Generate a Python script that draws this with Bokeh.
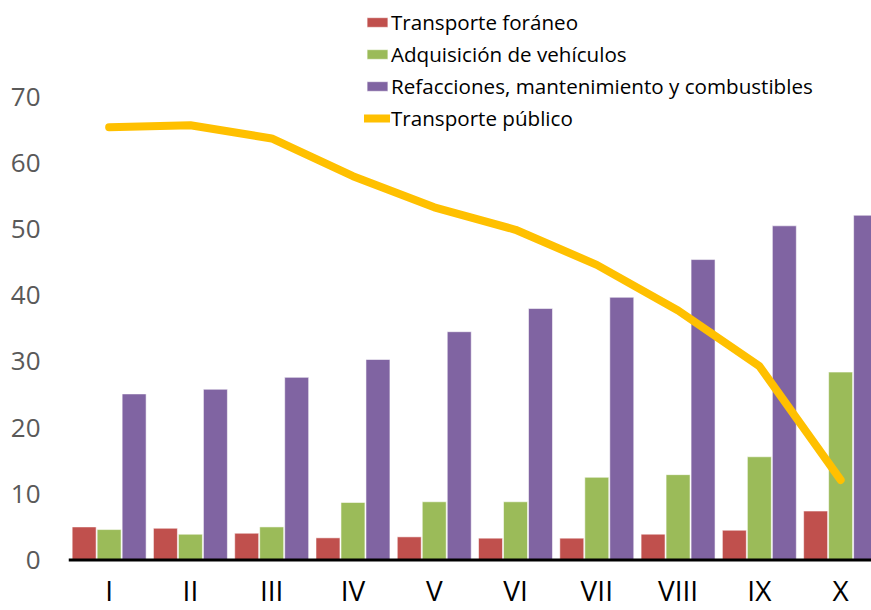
from bokeh.plotting import figure
from bokeh.models import ColumnDataSource, Range1d, FixedTicker, Legend, LegendItem, Span
from bokeh.core.properties import value
from bokeh.transform import dodge
from bokeh.embed import file_html
from bokeh.resources import INLINE

# ---- data ----
deciles = ["I", "II", "III", "IV", "V", "VI", "VII", "VIII", "IX", "X"]
transporte_foraneo = [5.0, 4.8, 4.05, 3.35, 3.5, 3.3, 3.3, 3.9, 4.5, 7.4]
adquisicion_vehiculos = [4.6, 3.9, 5.0, 8.7, 8.8, 8.8, 12.5, 12.9, 15.6, 28.4]
refacciones = [25.1, 25.8, 27.6, 30.3, 34.5, 38.0, 39.7, 45.4, 50.5, 52.1]
transporte_publico = [65.4, 65.7, 63.7, 58.0, 53.3, 49.9, 44.6, 37.7, 29.3, 12.1]
y_ticks = [0, 10, 20, 30, 40, 50, 60, 70]

series_names = ["Transporte foráneo", "Adquisición de vehículos",
                "Refacciones, mantenimiento y combustibles", "Transporte público"]

pos = list(range(1, len(deciles) + 1))
src = ColumnDataSource(dict(x=pos, tf=transporte_foraneo, av=adquisicion_vehiculos,
                            rf=refacciones, tp=transporte_publico))
lab_src = ColumnDataSource(dict(x=pos, y=[-7.35] * len(pos), t=deciles))

FONT = "Open Sans"

p = figure(width=871, height=610, output_backend="svg", toolbar_location=None,
           x_range=Range1d(0.5, 10.38), y_range=Range1d(-7.63, 84.55),
           min_border_left=68, min_border_right=0, min_border_top=0, min_border_bottom=0)
p.outline_line_color = None
p.xgrid.visible = False
p.ygrid.visible = False
p.xaxis.visible = False
p.background_fill_color = "white"
p.border_fill_color = "white"

bw = 0.295
step = 0.3075
r1 = p.vbar(x=dodge("x", -step, range=p.x_range), top="tf", width=bw, source=src,
            fill_color="#C0504D", line_color="white", line_alpha=0.7, line_width=0.8)
r2 = p.vbar(x=dodge("x", 0.0, range=p.x_range), top="av", width=bw, source=src,
            fill_color="#9BBB59", line_color="white", line_alpha=0.7, line_width=0.8)
r3 = p.vbar(x=dodge("x", step, range=p.x_range), top="rf", width=bw, source=src,
            fill_color="#8064A2", line_color="white", line_alpha=0.7, line_width=0.8)

# category axis line at zero
p.add_layout(Span(location=0, dimension="width", line_color="black", line_width=3))

r4 = p.line(x="x", y="tp", source=src, line_color="#FFC000", line_width=8,
            line_join="round", line_cap="round")

# category labels (decile numerals)
p.text(x="x", y="y", text="t", source=lab_src, text_font=value(FONT),
       text_font_size="28px", text_color="black", text_align="center",
       text_baseline="bottom")

ya = p.yaxis[0]
ya.ticker = FixedTicker(ticks=y_ticks)
ya.axis_line_color = None
ya.major_tick_line_color = None
ya.minor_tick_line_color = None
ya.major_tick_out = 0
ya.major_tick_in = 0
ya.major_label_text_font = FONT
ya.major_label_text_font_size = "26px"
ya.major_label_text_color = "#595959"
ya.major_label_standoff = 28

legend = Legend(items=[LegendItem(label=series_names[0], renderers=[r1]),
                       LegendItem(label=series_names[1], renderers=[r2]),
                       LegendItem(label=series_names[2], renderers=[r3]),
                       LegendItem(label=series_names[3], renderers=[r4])],
                location=(296, 476))
legend.padding = 0
legend.margin = 0
legend.spacing = 0
legend.label_height = 32
legend.glyph_height = 12
legend.glyph_width = 26
legend.label_standoff = 1
legend.label_text_font = FONT
legend.label_text_font_size = "20.6px"
legend.label_text_color = "black"
legend.background_fill_alpha = 0
legend.border_line_alpha = 0
p.add_layout(legend, "center")

open("out.html", "w").write(file_html(p, INLINE))
